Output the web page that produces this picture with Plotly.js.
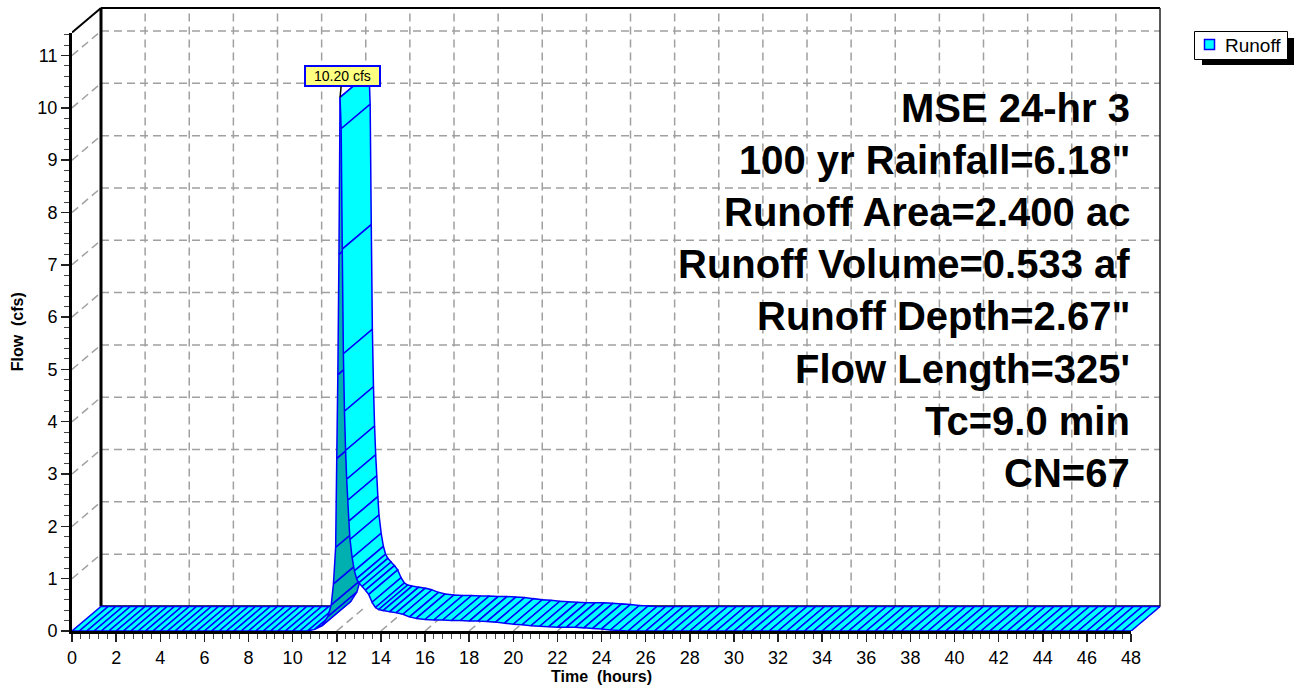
<!DOCTYPE html>
<html><head><meta charset="utf-8">
<script src="https://cdn.plot.ly/plotly-3.0.1.min.js"></script>
<style>html,body{margin:0;padding:0;background:#fff}#chart{width:1294px;height:685px}</style>
</head><body><div id="chart"></div>
<script>
// ---------------- data ----------------
const seriesName = 'Runoff';
const flowUnit = 'cfs';
const xTitle = 'Time\u00a0\u00a0(hours)';
const yTitle = 'Flow\u00a0\u00a0(cfs)';
const xTickVals = [0,2,4,6,8,10,12,14,16,18,20,22,24,26,28,30,32,34,36,38,40,42,44,46,48];
const yTickVals = [0,1,2,3,4,5,6,7,8,9,10,11];
const infoLines = ['MSE 24-hr 3','100 yr Rainfall=6.18"','Runoff Area=2.400 ac','Runoff Volume=0.533 af','Runoff Depth=2.67"',"Flow Length=325'",'Tc=9.0 min','CN=67'];
const timeHours = [
 0,0.33,0.67,1,1.33,1.67,2,2.33,2.67,3,
 3.33,3.67,4,4.33,4.67,5,5.33,5.67,6,6.33,
 6.67,7,7.33,7.67,8,8.33,8.67,9,9.33,9.67,
 10,10.33,10.67,11,11.33,11.6,11.75,11.85,11.95,12,
 12.05,12.1,12.15,12.2,12.25,12.3,12.35,12.4,12.45,12.5,
 12.55,12.6,12.7,12.8,12.9,13,13.15,13.3,13.45,13.6,
 13.75,13.9,14.1,14.4,14.7,15,15.3,15.6,16,16.4,
 16.8,17.2,17.6,18,18.4,18.8,19.2,19.6,20,20.4,
 20.8,21.2,21.6,22,22.4,22.8,23.2,23.6,24,24.4,
 24.8,25.2,25.6,26,26.4,26.8,27.2,27.6,28,28.4,
 28.8,29.2,29.6,30,30.4,30.8,31.2,31.6,32,32.4,
 32.8,33.2,33.6,34,34.4,34.8,35.2,35.6,36,36.4,
 36.8,37.2,37.6,38,38.4,38.8,39.2,39.6,40,40.4,
 40.8,41.2,41.6,42,42.4,42.8,43.2,43.6,44,44.4,
 44.8,45.2,45.6,46,46.4,46.8,47.2,47.6,48];
const flowCfs = [
 0,0,0,0,0,0,0,0,0,0,
 0,0,0,0,0,0,0,0,0,0,
 0,0,0,0,0,0,0,0,0,0,
 0,0,0,0.03,0.1,0.28,0.5,0.9,1.6,3.3,
 4.9,7.2,10.2,9.6,7.3,5.3,4.2,3.45,2.9,2.5,
 2.1,1.75,1.4,1.15,1.0,0.92,0.85,0.78,0.7,0.55,
 0.45,0.41,0.39,0.37,0.35,0.32,0.27,0.24,0.22,0.21,
 0.21,0.2,0.2,0.19,0.19,0.18,0.17,0.15,0.13,0.12,
 0.1,0.09,0.08,0.07,0.07,0.07,0.06,0.05,0.04,0.02,
 0.01,0,0,0,0,0,0,0,0,0,
 0,0,0,0,0,0,0,0,0,0,
 0,0,0,0,0,0,0,0,0,0,
 0,0,0,0,0,0,0,0,0,0,
 0,0,0,0,0,0,0,0,0,0,
 0,0,0,0,0,0,0,0,0];

// ---------------- geometry / style ----------------
const FONT = '"Liberation Sans", Arial, sans-serif';
const W = 1294, H = 685, ML = 72, MB = 54, MT = 6;
const X_MAX = 48, Y_FRONT_MAX = 11.44;
const FRONT_W_PX = 1059, DEPTH_PX_X = 29, DEPTH_PX_Y = 24.5, PAD_PX = 2;
const PLOT_W = FRONT_W_PX + DEPTH_PX_X + PAD_PX;
const PLOT_H = H - MB - MT;
const FRONT_H_PX = PLOT_H - PAD_PX - DEPTH_PX_Y;
const MR = W - ML - PLOT_W;
const pxPerHr = FRONT_W_PX / X_MAX;
const pxPerCfs = FRONT_H_PX / Y_FRONT_MAX;
const DX = DEPTH_PX_X / pxPerHr, DY = DEPTH_PX_Y / pxPerCfs;
const XB = X_MAX + DX, YB = Y_FRONT_MAX + DY;
const XR = PLOT_W / pxPerHr, YR = PLOT_H / pxPerCfs;

const CYAN = '#00FFFF', TEAL = '#00AFAF', BLUE = '#0000FF', GRID = '#A0A0A0';
const gridDash = '8px,5px';

// ---------------- shapes (walls & grid) ----------------
const shapes = [];
function seg(x0,y0,x1,y1,color,width,dash){
  shapes.push({type:'line', xref:'x', yref:'y', x0, y0, x1, y1, layer:'below',
    line:{color, width, dash: dash || 'solid'}});
}
xTickVals.forEach(v => { if (v > 0 && v < X_MAX) seg(v+DX, DY, v+DX, YB, GRID, 1.5, gridDash); });
yTickVals.forEach(v => { if (v > 0) seg(DX, v+DY, XB, v+DY, GRID, 1.5, gridDash); });
yTickVals.forEach(v => { if (v > 0) seg(0, v, DX, v+DY, GRID, 1.5, gridDash); });
seg(DX, DY, XB, DY, '#000', 2.5);
seg(DX, DY, DX, YB, '#000', 3);
seg(DX, YB, XB, YB, '#000', 2);
seg(XB, DY, XB, YB, '#222', 1.5);
seg(0, Y_FRONT_MAX, DX, YB, '#000', 2);

// legend (paper px)
const px2paperX = px => (px - ML) / PLOT_W;
const px2paperY = py => (H - MB - py) / PLOT_H;
function prect(x0, y0, x1, y1, fill, lineColor, lineWidth){
  shapes.push({type:'rect', xref:'paper', yref:'paper', layer:'above',
    x0:px2paperX(x0), x1:px2paperX(x1), y0:px2paperY(y1), y1:px2paperY(y0),
    fillcolor:fill, line:{color:lineColor, width:lineWidth}});
}
prect(1202, 38, 1294, 65, '#000', '#000', 0);
prect(1194.5, 31.5, 1287.5, 59.5, '#FFFFFF', '#000', 1);
prect(1204.5, 39.5, 1214.5, 49.5, CYAN, BLUE, 1.5);

// ---------------- traces ----------------
const traces = [];
traces.push({type:'scatter', mode:'lines', name:seriesName, xaxis:'x', yaxis:'y', showlegend:false, hoverinfo:'skip',
  x: timeHours.concat([timeHours[timeHours.length-1], timeHours[0]]),
  y: flowCfs.concat([0,0]), fill:'toself', fillcolor:'#FFFFFF', line:{width:0, color:'rgba(0,0,0,0)'}});
const fx = [], fy = [];
xTickVals.forEach(v => { if (v > 0) { fx.push(v, v+DX, null); fy.push(0, DY, null); } });
traces.push({type:'scatter', mode:'lines', xaxis:'x', yaxis:'y', showlegend:false, hoverinfo:'skip',
  x:fx, y:fy, line:{color:GRID, width:1.5, dash:gridDash}});
for (let i = 0; i < timeHours.length - 1; i++) {
  const t0 = timeHours[i], t1 = timeHours[i+1], q0 = flowCfs[i], q1 = flowCfs[i+1];
  const cross = -DEPTH_PX_Y * (t1 - t0) * pxPerHr + DEPTH_PX_X * (q1 - q0) * pxPerCfs;
  traces.push({type:'scatter', mode:'lines', name:seriesName, legendgroup:'runoff',
    xaxis:'x', yaxis:'y', showlegend:false, hoverinfo:'skip',
    x:[t0, t1, t1+DX, t0+DX, t0], y:[q0, q1, q1+DY, q0+DY, q0],
    fill:'toself', fillcolor: cross > 0 ? TEAL : CYAN,
    line:{color:BLUE, width:1.5}});
}

// ---------------- annotations ----------------
const annotations = [];
const LINE0_Y = 108, LINE_STEP = 52.1;
infoLines.forEach((s, i) => annotations.push({
  xref:'paper', yref:'paper', x:px2paperX(1132), y:px2paperY(LINE0_Y + i*LINE_STEP),
  xanchor:'right', yanchor:'middle', showarrow:false, text:s,
  font:{family:FONT, size:40, weight:'bold', color:'#000'}}));
annotations.push({xref:'paper', yref:'paper', x:px2paperX(1223), y:px2paperY(45),
  xanchor:'left', yanchor:'middle', showarrow:false, text:seriesName,
  font:{family:FONT, size:19, color:'#000'}});
let pk = 0;
flowCfs.forEach((q, i) => { if (q > flowCfs[pk]) pk = i; });
annotations.push({xref:'x2', yref:'y2', x:timeHours[pk], y:flowCfs[pk],
  text: '\u2002' + flowCfs[pk].toFixed(2) + ' ' + flowUnit + '\u2002', showarrow:true, arrowhead:0, arrowwidth:1.5,
  arrowcolor:'#000', ax:2, ay:-21, bgcolor:'#FFFF80', bordercolor:BLUE, borderwidth:2, borderpad:1,
  font:{family:FONT, size:14, color:'#000'}});

const minorX = [], minorY = [];
for (let k = 0; k <= 120; k++) minorX.push(+(k*0.4).toFixed(2));
for (let k = 0; k <= 57; k++) minorY.push(+(k*0.2).toFixed(2));

const layout = {
  width:W, height:H, margin:{l:ML, r:MR, t:MT, b:MB, pad:0},
  paper_bgcolor:'#FFFFFF', plot_bgcolor:'rgba(0,0,0,0)',
  font:{family:FONT, color:'#000'}, showlegend:false,
  xaxis:{domain:[0,1], range:[0,XR], visible:false, fixedrange:true},
  yaxis:{domain:[0,1], range:[0,YR], visible:false, fixedrange:true},
  xaxis2:{anchor:'y2', domain:[0, FRONT_W_PX/PLOT_W], range:[0,X_MAX], automargin:false,
    tickmode:'array', tickvals:xTickVals, ticktext:xTickVals.map(String),
    ticks:'outside', ticklen:8, tickwidth:1.5, tickcolor:'#222',
    showline:true, linewidth:3, linecolor:'#000', showgrid:false, zeroline:false,
    tickfont:{family:FONT, size:18, color:'#000'},
    minor:{tickmode:'array', tickvals:minorX, ticks:'outside', ticklen:5, tickwidth:1, tickcolor:'#444', showgrid:false},
    title:{text:xTitle, font:{family:FONT, size:16, weight:'bold'}, standoff:2}},
  yaxis2:{anchor:'x2', domain:[0, FRONT_H_PX/PLOT_H], range:[0,Y_FRONT_MAX], automargin:false,
    tickmode:'array', tickvals:yTickVals, ticktext:yTickVals.map(String),
    ticks:'outside', ticklen:8, tickwidth:1.5, tickcolor:'#222',
    showline:true, linewidth:3, linecolor:'#000', showgrid:false, zeroline:false,
    tickfont:{family:FONT, size:18, color:'#000'},
    minor:{tickmode:'array', tickvals:minorY, ticks:'outside', ticklen:5, tickwidth:1, tickcolor:'#444', showgrid:false},
    title:{text:yTitle, font:{family:FONT, size:16, weight:'bold'}, standoff:10}},
  shapes, annotations
};
Plotly.newPlot('chart', traces, layout, {staticPlot:true, displayModeBar:false});
</script>
</body></html>
